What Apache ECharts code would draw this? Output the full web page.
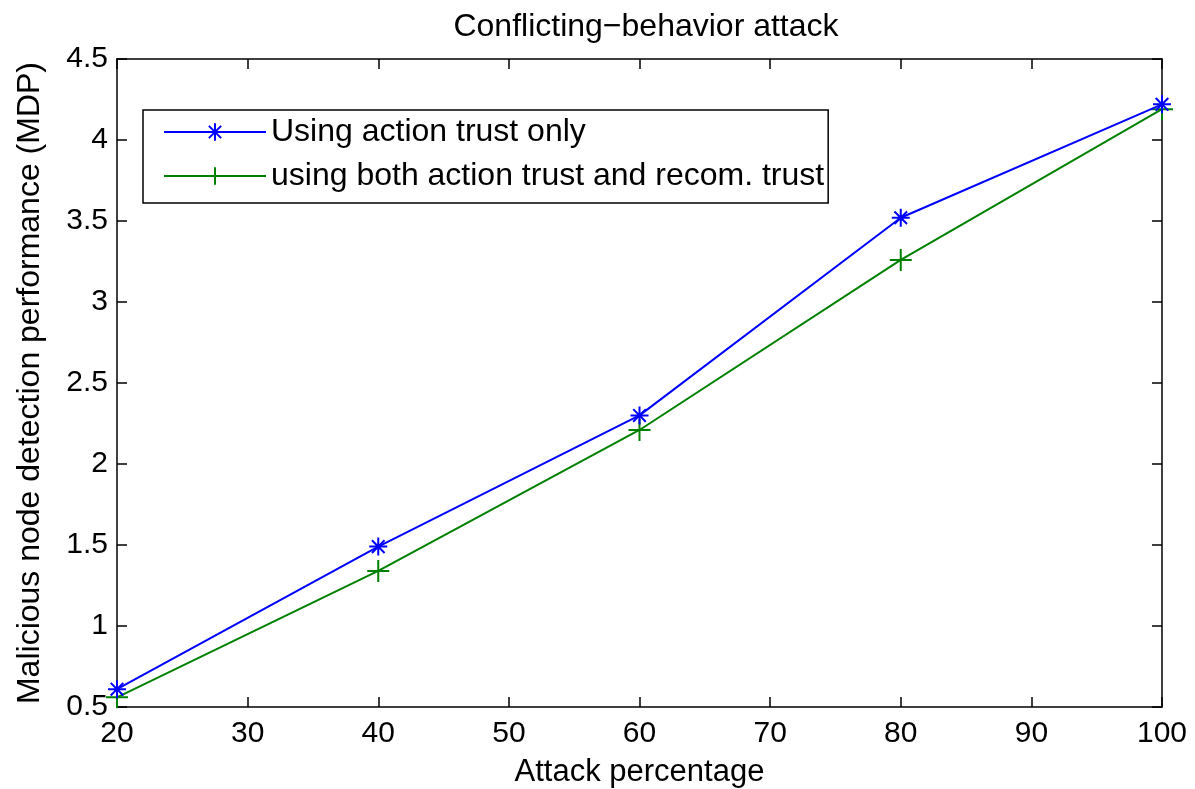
<!DOCTYPE html>
<html>
<head>
<meta charset="utf-8">
<script src="https://cdn.jsdelivr.net/npm/echarts@6/dist/echarts.min.js"></script>
<style>html,body{margin:0;padding:0;background:#fff}#c{width:1195px;height:789px}</style>
</head>
<body>
<div id="c"></div>
<script>
const attackPct = [20, 40, 60, 80, 100];
const actionOnly = [0.61, 1.49, 2.30, 3.52, 4.22];
const bothTrust = [0.56, 1.34, 2.21, 3.26, 4.19];
const seriesNames = ['Using action trust only', 'using both action trust and recom. trust'];

const FONT = '"Liberation Sans", Arial, sans-serif';
const starPath = 'path://M0,-10 L0,10 M-10,0 L10,0 M-7,-7 L7,7 M-7,7 L7,-7';
const plusPath = 'path://M0,-10 L0,10 M-10,0 L10,0';

const chart = echarts.init(document.getElementById('c'), null, {renderer: 'canvas'});
const axisCommon = {
  axisLine: {show: true, lineStyle: {color: '#000', width: 1.5}},
  axisTick: {show: true, inside: true, length: 10, lineStyle: {color: '#000', width: 1.5}},
  splitLine: {show: false}
};
chart.setOption({
  backgroundColor: '#fff',
  animation: false,
  title: {
    text: 'Conflicting\u2212behavior attack',
    left: 641, top: 6, textAlign: 'center',
    textStyle: {fontFamily: FONT, fontSize: 32, fontWeight: 'normal', color: '#000'}
  },
  grid: {left: 117, right: 33, top: 59, bottom: 82, show: false, outerBoundsMode: 'none', containLabel: false},
  legend: {
    orient: 'vertical',
    left: 143, top: 110,
    data: seriesNames,
    itemWidth: 102, itemHeight: 22, itemGap: 12,
    padding: [6, 4, 11, 20],
    borderColor: '#000', borderWidth: 1.5,
    backgroundColor: '#fff',
    textStyle: {fontFamily: FONT, fontSize: 32, color: '#000', lineHeight: 32}
  },
  xAxis: [
    Object.assign({type: 'value', min: 20, max: 100, interval: 10, position: 'bottom',
      name: 'Attack percentage', nameLocation: 'middle', nameGap: 50,
      nameTextStyle: {fontFamily: FONT, fontSize: 31, color: '#000'},
      axisLabel: {fontFamily: FONT, fontSize: 30, color: '#000', margin: 12}}, axisCommon),
    Object.assign({type: 'value', min: 20, max: 100, interval: 10, position: 'top',
      axisLabel: {show: false}}, axisCommon)
  ],
  yAxis: [
    Object.assign({type: 'value', min: 0.5, max: 4.5, interval: 0.5, position: 'left',
      name: 'Malicious node detection performance (MDP)', nameLocation: 'middle', nameGap: 71,
      nameTextStyle: {fontFamily: FONT, fontSize: 32, color: '#000'},
      axisLabel: {fontFamily: FONT, fontSize: 30, color: '#000', margin: 9,
        formatter: v => String(v)}}, axisCommon),
    Object.assign({type: 'value', min: 0.5, max: 4.5, interval: 0.5, position: 'right',
      axisLabel: {show: false}}, axisCommon)
  ],
  series: [
    {
      name: seriesNames[0], type: 'line',
      data: attackPct.map((x, i) => [x, actionOnly[i]]),
      symbol: starPath, symbolSize: 18,
      itemStyle: {color: '#0000ff', borderColor: '#0000ff', borderWidth: 2},
      lineStyle: {color: '#0000ff', width: 2},
      clip: false, z: 3
    },
    {
      name: seriesNames[1], type: 'line',
      data: attackPct.map((x, i) => [x, bothTrust[i]]),
      symbol: plusPath, symbolSize: 22,
      itemStyle: {color: '#008000', borderColor: '#008000', borderWidth: 2},
      lineStyle: {color: '#008000', width: 2},
      clip: false, z: 2
    }
  ]
});
</script>
</body>
</html>
